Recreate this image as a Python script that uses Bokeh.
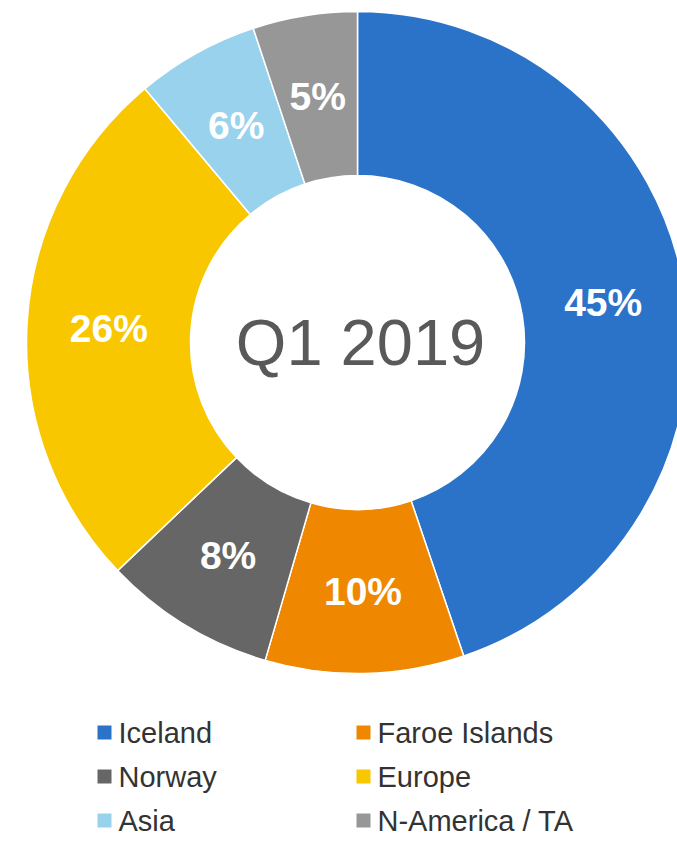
import numpy as np
from bokeh.plotting import figure
from bokeh.models import Range1d, ColumnDataSource
from bokeh.core.properties import value
from bokeh.embed import file_html
from bokeh.resources import INLINE

# ---- data ----
categories = ["Iceland", "Faroe Islands", "Norway", "Europe", "Asia", "N-America / TA"]
shares = [44.8, 9.7, 8.4, 26.0, 6.0, 5.1]
colors = ["#2A73C8", "#EF8800", "#666666", "#F8C700", "#98D2EC", "#979797"]
center_label = "Q1 2019"

# ---- geometry (screen px; data units == pixels) ----
W, H = 677, 841
CX, CY = 357, H - 342
R_OUT, R_IN = 331, 167

p = figure(width=W, height=H, output_backend="svg", toolbar_location=None,
           x_range=Range1d(0, W), y_range=Range1d(0, H),
           min_border=0, outline_line_color=None)
p.axis.visible = False
p.grid.visible = False
p.background_fill_color = "white"
p.border_fill_color = "white"

vals = np.array(shares, dtype=float)
frac = vals / vals.sum()
ends = np.pi / 2 - 2 * np.pi * np.cumsum(frac)
starts = np.concatenate([[np.pi / 2], ends[:-1]])
mids = (starts + ends) / 2
r_mid = (R_OUT + R_IN) / 2

src = ColumnDataSource(dict(
    start=starts, end=ends, color=colors,
    lx=CX + r_mid * np.cos(mids), ly=CY + r_mid * np.sin(mids),
    label=[f"{round(v)}%" for v in vals],
))

p.annular_wedge(x=CX, y=CY, inner_radius=R_IN, outer_radius=R_OUT,
                start_angle="start", end_angle="end", direction="clock",
                fill_color="color", line_color="white", line_width=1.5, source=src)

p.text(x="lx", y="ly", text="label", source=src, text_color="white",
       text_font=value("Liberation Sans"), text_font_style="bold",
       text_font_size="39px", text_align="center", text_baseline="middle")

p.text(x=[CX + 3], y=[CY], text=[center_label], text_color="#595959",
       text_font=value("Liberation Sans"), text_font_size="65px",
       text_align="center", text_baseline="middle")

# ---- legend (two columns, three rows) ----
col_sq_x = [104, 363]
col_tx_x = [118, 377]
row_y = [H - 732, H - 776, H - 820]
lg = dict(sx=[], tx=[], y=[], color=[], name=[])
for i, name in enumerate(categories):
    r, c = divmod(i, 2)
    lg["sx"].append(col_sq_x[c])
    lg["tx"].append(col_tx_x[c])
    lg["y"].append(row_y[r])
    lg["color"].append(colors[i])
    lg["name"].append(name)
lsrc = ColumnDataSource(lg)
p.scatter(x="sx", y="y", marker="square", size=14, fill_color="color",
          line_color=None, source=lsrc)
p.text(x="tx", y="y", text="name", source=lsrc, text_color="#333333",
       text_font=value("Liberation Sans"), text_font_size="29px",
       text_align="left", text_baseline="middle")

open("out.html", "w").write(file_html(p, INLINE))
